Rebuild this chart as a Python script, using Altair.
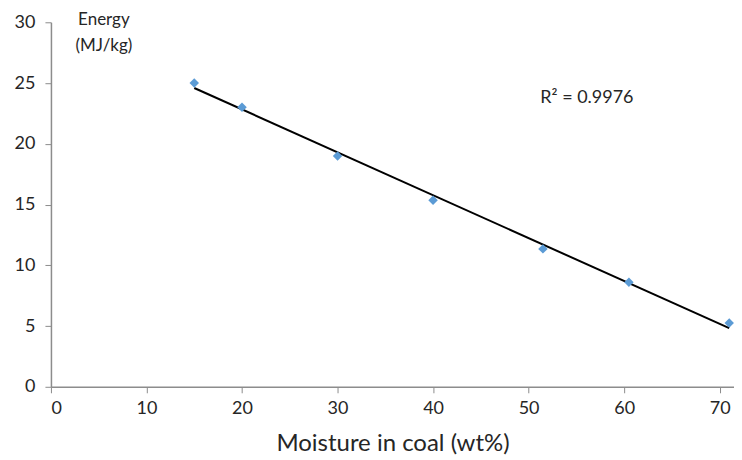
import altair as alt
import pandas as pd

moisture = [15, 20, 30, 40, 51.5, 60.5, 71]
energy = [25.0, 23.0, 19.0, 15.35, 11.35, 8.6, 5.25]
r2_label = ["R² = 0.9976"]
y_title = [["Energy", "(MJ/kg)"]]

df = pd.DataFrame({"moisture": moisture, "energy": energy})

FONT = "Lato"
xscale = alt.Scale(domain=[0, 71.5], nice=False, zero=True)
yscale = alt.Scale(domain=[0, 30], nice=False)

xenc = alt.X("moisture:Q", scale=xscale,
             axis=alt.Axis(values=[0, 10, 20, 30, 40, 50, 60, 70], title="Moisture in coal (wt%)",
                           grid=False, domainColor="#8c8c8c", tickColor="#8c8c8c", tickSize=6,
                           labelFontSize=18, labelColor="#262626", labelFont=FONT, labelPadding=7,
                           titleFont=FONT, titleFontSize=24, titleFontWeight="normal",
                           titleColor="#262626", titlePadding=14, domainWidth=1.5))
yenc = alt.Y("energy:Q", scale=yscale,
             axis=alt.Axis(values=[0, 5, 10, 15, 20, 25, 30], title=None, grid=False,
                           domainColor="#8c8c8c", tickColor="#8c8c8c", tickSize=6,
                           labelFontSize=18, labelColor="#262626", labelFont=FONT, labelPadding=10,
                           domainWidth=1.5))

base = alt.Chart(df)

trend = base.transform_regression("moisture", "energy", extent=[15, 71]).mark_line(
    color="black", strokeWidth=2
).encode(x=xenc, y=yenc)

points = base.mark_point(shape="diamond", filled=True, size=90, color="#5b9bd5", opacity=1).encode(
    x=xenc, y=yenc
)

r2 = alt.Chart(pd.DataFrame({"t": r2_label})).mark_text(
    align="left", baseline="middle", fontSize=18, font=FONT, color="#262626"
).encode(x=alt.value(490), y=alt.value(76), text="t:N")

ytitle = alt.Chart(pd.DataFrame({"t": y_title})).mark_text(
    align="center", baseline="middle", fontSize=17, font=FONT, color="#262626", lineHeight=26
).encode(x=alt.value(53), y=alt.value(-2), text="t")

chart = alt.layer(trend, points, r2, ytitle).properties(
    width=684, height=365,
    padding={"left": 6, "top": 3, "right": 0, "bottom": 0},
).configure_view(stroke=None)

chart.save("out.html", embed_options={"renderer": "svg", "actions": False})
